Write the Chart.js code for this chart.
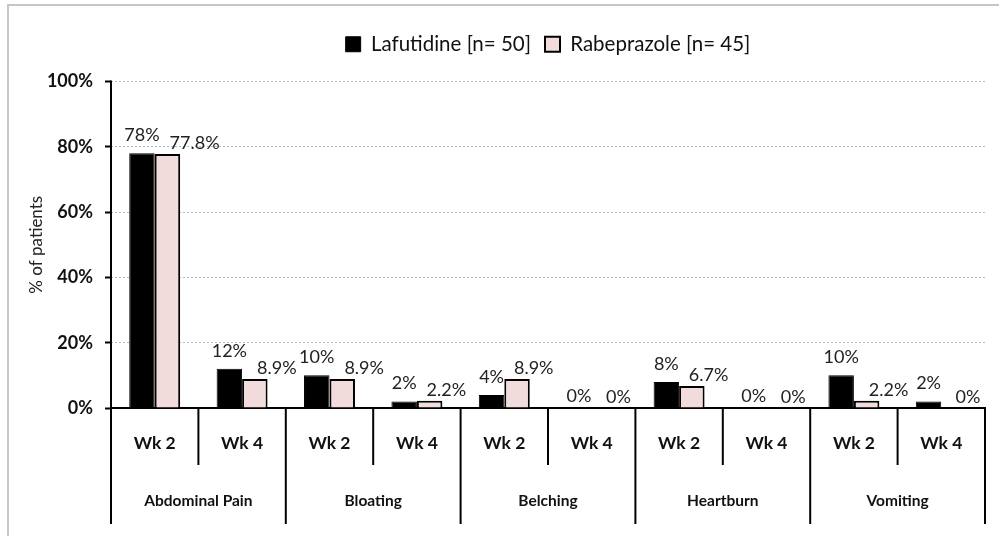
<!DOCTYPE html>
<html>
<head>
<meta charset="utf-8">
<script src="https://cdn.jsdelivr.net/npm/chart.js@4.4.1/dist/chart.umd.min.js"></script>
<style>
body{margin:0;background:#fff;}
#wrap{position:relative;width:999px;height:536px;overflow:hidden;}
#frame{position:absolute;left:7px;top:4px;width:1000px;height:540px;border-left:2px solid #c6c6c6;border-top:2px solid #c6c6c6;}
canvas{position:absolute;left:0;top:0;}
</style>
</head>
<body>
<div id="wrap"><div id="frame"></div><canvas id="mycanvas" width="999" height="536"></canvas></div>
<script>
var weeks = ['Wk 2', 'Wk 4', 'Wk 2', 'Wk 4', 'Wk 2', 'Wk 4', 'Wk 2', 'Wk 4', 'Wk 2', 'Wk 4'];
var groups = ['Abdominal Pain', 'Bloating', 'Belching', 'Heartburn', 'Vomiting'];
var lafutidine = [78, 12, 10, 2, 4, 0, 8, 0, 10, 2];
var rabeprazole = [77.8, 8.9, 8.9, 2.2, 8.9, 0, 6.7, 0, 2.2, 0];
var yTicks = [0, 20, 40, 60, 80, 100];

var FONT = 'Lato';

// y axis line, week / symptom separators and symptom names under the axis
var groupLines = {
	id: 'groupLines',
	afterDraw: function(chart) {
		var ctx = chart.ctx, x = chart.scales.x, area = chart.chartArea;
		var half = (x.getPixelForValue(1) - x.getPixelForValue(0)) / 2;
		ctx.save();
		ctx.strokeStyle = '#000';
		ctx.lineWidth = 2;
		for (var i = 0; i <= weeks.length; i++) {
			var px = i < weeks.length ? x.getPixelForValue(i) - half : x.getPixelForValue(i - 1) + half;
			var len = (i % 2 === 0) ? 116 : 57;
			var top = i === 0 ? area.top - 1 : area.bottom;
			ctx.beginPath();
			ctx.moveTo(px, top);
			ctx.lineTo(px, area.bottom + len);
			ctx.stroke();
		}
		ctx.font = 'bold 15.5px ' + FONT;
		ctx.textAlign = 'center';
		ctx.textBaseline = 'middle';
		ctx.fillStyle = '#111';
		for (var g = 0; g < groups.length; g++) {
			var cx = (x.getPixelForValue(2 * g) + x.getPixelForValue(2 * g + 1)) / 2;
			ctx.fillText(groups[g], cx, area.bottom + 93);
		}
		ctx.restore();
	}
};

// value labels above bars
var valueLabels = {
	id: 'valueLabels',
	afterDatasetsDraw: function(chart) {
		var ctx = chart.ctx;
		ctx.save();
		ctx.font = '18px ' + FONT;
		ctx.fillStyle = '#222';
		ctx.textAlign = 'center';
		ctx.textBaseline = 'bottom';
		var blackRight = [];
		chart.data.datasets.forEach(function(ds, di) {
			var meta = chart.getDatasetMeta(di);
			meta.data.forEach(function(bar, i) {
				var txt = ds.data[i] + '%';
				var w = ctx.measureText(txt).width;
				var cx, dy;
				if (di === 0) {
					cx = bar.x;
					dy = ds.data[i] === 0 ? 3 : 9;
					blackRight[i] = cx + w / 2;
				} else {
					cx = Math.max(bar.x + 14, blackRight[i] + 10 + w / 2);
					dy = 2;
				}
				ctx.fillText(txt, cx, bar.y - dy);
			});
		});
		ctx.restore();
	}
};

// extra room under the legend, and legend centred over the plot area
var legendTweak = {
	id: 'legendTweak',
	beforeUpdate: function(chart) {
		var lg = chart.legend;
		if (lg && !lg._gapPatched) {
			var fit = lg.fit;
			lg.fit = function() { fit.call(this); this.height += 17; };
			lg._gapPatched = true;
		}
	},
	afterUpdate: function(chart) {
		var lg = chart.legend, a = chart.chartArea;
		var d = (a.left + a.right) / 2 - (lg.left + lg.right) / 2;
		lg.left += d;
		lg.right += d;
		lg.adjustHitBoxes();
	}
};

var chartdata = {
	labels: weeks,
	datasets: [
		{
			label: 'Lafutidine [n= 50]',
			backgroundColor: '#000000',
			borderColor: '#000000',
			borderWidth: 1,
			data: lafutidine
		},
		{
			label: 'Rabeprazole [n= 45]',
			backgroundColor: '#f2dcdb',
			borderColor: '#000000',
			borderWidth: 2,
			data: rabeprazole
		}
	]
};

var ctx = document.getElementById('mycanvas');
var barGraph = new Chart(ctx, {
	type: 'bar',
	data: chartdata,
	plugins: [groupLines, valueLabels, legendTweak],
	options: {
		responsive: false,
		animation: false,
		layout: { padding: { top: 20, right: 14, bottom: 0, left: 0 } },
		datasets: { bar: { categoryPercentage: 0.583, barPercentage: 1.0 } },
		plugins: {
			tooltip: { enabled: false },
			legend: {
				position: 'top',
				labels: {
					color: '#111',
					font: { family: FONT, size: 20.5 },
					boxWidth: 15,
					boxHeight: 15,
					padding: 14
				}
			}
		},
		scales: {
			x: {
				afterFit: function(s) { s.height = 128; },
				grid: { drawOnChartArea: false, drawTicks: false },
				border: { color: '#000', width: 2 },
				ticks: { color: '#111', padding: 25, font: { family: FONT, size: 17.5, weight: 'bold' } }
			},
			y: {
				min: 0,
				max: 100,
				afterFit: function(s) { s.width = 111; },
				afterBuildTicks: function(s) { s.ticks = yTicks.map(function(v) { return { value: v }; }); },
				title: { display: true, text: '% of patients', color: '#222', font: { family: FONT, size: 17 }, padding: { top: 26, bottom: 0 } },
				grid: {
					color: function(c) { return c.tick && c.tick.value === 0 ? 'rgba(0,0,0,0)' : '#a9c0d4'; },
					lineWidth: 1,
					tickLength: 6,
					tickColor: '#000',
					tickWidth: 2,
					tickBorderDash: []
				},
				border: { display: false, color: '#000', width: 2, dash: [2, 2] },
				ticks: {
					color: '#111',
					padding: 12,
					font: { family: FONT, size: 18, weight: 'bold' },
					callback: function(v) { return v + '%'; }
				}
			}
		}
	}
});
</script>
</body>
</html>
